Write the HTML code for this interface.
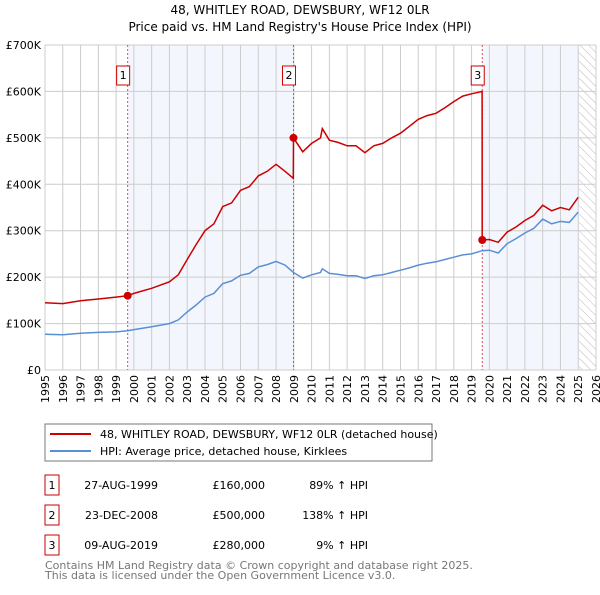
<!DOCTYPE html>
<html><head><meta charset="utf-8"><style>
body{margin:0;background:#fff;font-family:"Liberation Sans","DejaVu Sans",sans-serif;}
svg text{font-family:"DejaVu Sans","Liberation Sans",sans-serif;}
</style></head><body>
<svg id="c" width="600" height="590">
<defs><pattern id="hatch" width="6" height="6" patternUnits="userSpaceOnUse" patternTransform="rotate(-45)"><line x1="0" y1="0" x2="0" y2="6" stroke="#bbb" stroke-width="1"/></pattern></defs>
<text x="300" y="14" text-anchor="middle" font-size="12">48, WHITLEY ROAD, DEWSBURY, WF12 0LR</text>
<text x="300" y="31" text-anchor="middle" font-size="12">Price paid vs. HM Land Registry's House Price Index (HPI)</text>
<g id="grid"></g><g id="marks"></g>
<rect x="45" y="424" width="387" height="37" fill="#fff" stroke="#777"/>
<line x1="50" y1="434" x2="91" y2="434" stroke="#cc0000" stroke-width="2"/>
<text x="100" y="438" font-size="11">48, WHITLEY ROAD, DEWSBURY, WF12 0LR (detached house)</text>
<line x1="50" y1="451" x2="91" y2="451" stroke="#5b8fd4" stroke-width="2"/>
<text x="100" y="455" font-size="11">HPI: Average price, detached house, Kirklees</text>
<g id="table" font-size="11"></g>
<text x="45" y="569" font-size="11" fill="#777">Contains HM Land Registry data © Crown copyright and database right 2025.</text>
<text x="45" y="579" font-size="11" fill="#777">This data is licensed under the Open Government Licence v3.0.</text>
</svg>
<script>
const hpiDates=[1995,1996,1997,1998,1999,1999.65,2000,2001,2002,2002.5,2003,2003.5,2004,2004.5,2005,2005.5,2006,2006.5,2007,2007.5,2008,2008.5,2008.98,2009.5,2010,2010.5,2010.6,2011,2011.5,2012,2012.5,2013,2013.5,2014,2014.5,2015,2015.5,2016,2016.5,2017,2017.5,2018,2018.5,2019,2019.6,2020,2020.5,2021,2021.5,2022,2022.5,2023,2023.5,2024,2024.5,2025];
const hpiValues=[77,76,79,81,82,84.6,87,93,100,108,125,140,157,165,186,192,204,208,222,227,234,226,210,198,205,210,218,208,206,203,203,197,203,205,210,215,220,226,230,233,238,243,248,250,257,258,252,272,283,295,305,325,315,320,318,340];
const priceDates=[1995,1996,1997,1998,1999,1999.65,2000,2001,2002,2002.5,2003,2003.5,2004,2004.5,2005,2005.5,2006,2006.5,2007,2007.5,2008,2008.5,2008.97,2008.98,2009.5,2010,2010.5,2010.6,2011,2011.5,2012,2012.5,2013,2013.5,2014,2014.5,2015,2015.5,2016,2016.5,2017,2017.5,2018,2018.5,2019,2019.59,2019.6,2020,2020.5,2021,2021.5,2022,2022.5,2023,2023.5,2024,2024.5,2025];
const priceValues=[145,143,149,153,157,160,165,176,190,205,238,270,300,315,352,360,387,395,418,428,443,428,413,500,470,488,500,520,495,490,483,483,468,483,488,500,510,525,540,548,553,565,578,590,595,600,280,281,275,297,308,322,333,355,343,350,345,372];
const saleLabels=["1","2","3"];
const saleDates=[1999.65,2008.98,2019.6];
const saleValues=[160,500,280];
const saleDateText=["27-AUG-1999","23-DEC-2008","09-AUG-2019"];
const salePriceText=["£160,000","£500,000","£280,000"];
const saleHpiText=["89% ↑ HPI","138% ↑ HPI","9% ↑ HPI"];
const yTicks=[0,100,200,300,400,500,600,700];
const yTickLabels=["£0","£100K","£200K","£300K","£400K","£500K","£600K","£700K"];
const xTicks=[1995,1996,1997,1998,1999,2000,2001,2002,2003,2004,2005,2006,2007,2008,2009,2010,2011,2012,2013,2014,2015,2016,2017,2018,2019,2020,2021,2022,2023,2024,2025,2026];

const NS="http://www.w3.org/2000/svg";
const L=45,R=596,T=45,B=370;
const x=v=>L+(v-1995)/(2026-1995)*(R-L);
const y=v=>B-v/700*(B-T);
function mk(tag,at,parent){const e=document.createElementNS(NS,tag);for(const k in at)e.setAttribute(k,at[k]);parent.appendChild(e);return e;}
const g=document.getElementById('grid'),m=document.getElementById('marks'),tb=document.getElementById('table');
let r;
r=mk('rect',{x:x(saleDates[0]),y:T,width:x(saleDates[1])-x(saleDates[0]),height:B-T,fill:'#eef3fc',opacity:0.7},g);

r=mk('rect',{x:x(saleDates[2]),y:T,width:x(2025.05)-x(saleDates[2]),height:B-T,fill:'#eef3fc',opacity:0.7},g);

r=mk('rect',{x:x(2025.05),y:T,width:R-x(2025.05),height:B-T,fill:'url(#hatch)'},g);

xTicks.forEach(t=>{let l=mk('line',{x1:x(t),x2:x(t),y1:T,y2:B,stroke:'#ccc'},g);

const px=x(t)+4,py=B+5;
let tx=mk('text',{x:px,y:py,'text-anchor':'end','font-size':11,transform:'rotate(-90 '+px+' '+py+')'},g);tx.textContent=t;
});
yTicks.forEach((t,i)=>{let l=mk('line',{x1:L,x2:R,y1:y(t),y2:y(t),stroke:'#ccc'},g);

let tx=mk('text',{x:L-4,y:y(t)+4,'text-anchor':'end','font-size':11},g);tx.textContent=yTickLabels[i];
});
saleDates.forEach((d,i)=>{let l=mk('line',{x1:x(d),x2:x(d),y1:T,y2:B,stroke:'#e05050','stroke-dasharray':'2,2'},m);

let bx=mk('rect',{x:x(d)-11,y:66,width:13,height:19,fill:'#fff',stroke:'#cc0000'},m);

let tx=mk('text',{x:x(d)-4.5,y:79,'text-anchor':'middle','font-size':11},m);tx.textContent=saleLabels[i];
});
let p=mk('path',{d:hpiDates.map((d,i)=>(i?'L':'M')+x(d).toFixed(1)+','+y(hpiValues[i]).toFixed(1)).join(''),fill:'none',stroke:'#5b8fd4','stroke-width':1.5},m);

p=mk('path',{d:priceDates.map((d,i)=>(i?'L':'M')+x(d).toFixed(1)+','+y(priceValues[i]).toFixed(1)).join(''),fill:'none',stroke:'#cc0000','stroke-width':1.5},m);

saleDates.forEach((d,i)=>{let c=mk('circle',{cx:x(d),cy:y(saleValues[i]),r:4,fill:'#cc0000'},m);
});
saleLabels.forEach((s,i)=>{const yy=483+i*30;
let bx=mk('rect',{x:45,y:yy-8,width:14,height:20,fill:'#fff',stroke:'#cc0000'},tb);

let t=mk('text',{x:52,y:yy+6,'text-anchor':'middle'},tb);t.textContent=s;

t=mk('text',{x:158,y:yy+6,'text-anchor':'end'},tb);t.textContent=saleDateText[i];

t=mk('text',{x:265,y:yy+6,'text-anchor':'end'},tb);t.textContent=salePriceText[i];

t=mk('text',{x:368,y:yy+6,'text-anchor':'end'},tb);t.textContent=saleHpiText[i];
});
</script>
</body></html>
